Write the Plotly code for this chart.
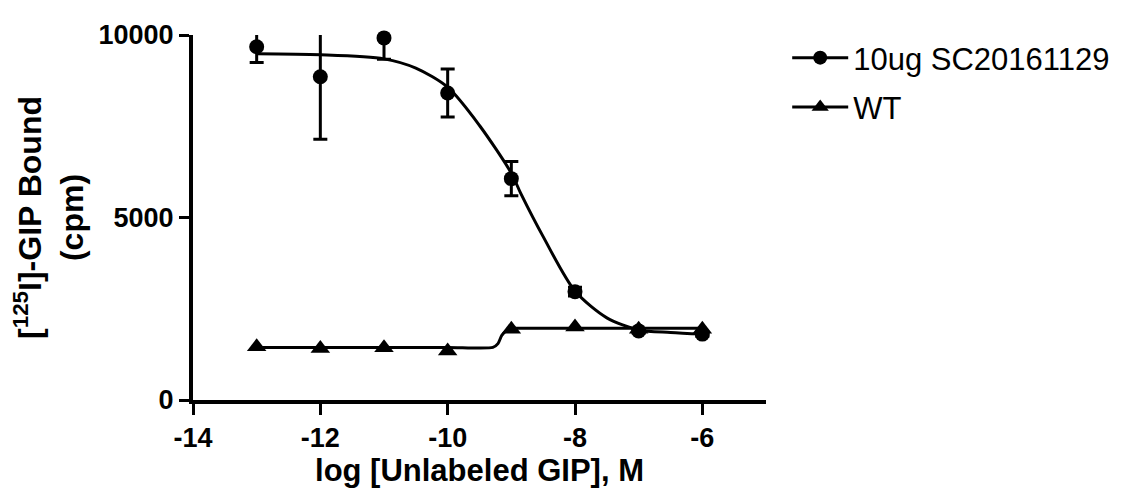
import plotly.graph_objects as go

# ---- data ----
log_conc = [-13, -12, -11, -10, -9, -8, -7, -6]
sc_mean = [9678, 8856, 9921, 8411, 6065, 2966, 1893, 1806]
sc_sem = [430, 1709, 583, 660, 470, 120, 60, 60]
wt_mean = [1458, 1414, 1432, 1343, 1937, 1997, 1937, 1937]

# fitted curves
sc_fit_x = [-13, -12, -11, -10.5, -10, -9.5, -9, -8.85, -8.5, -8, -7.5, -7, -6.5, -6]
sc_fit_y = [9484, 9458, 9346, 9092, 8569, 7521, 6213, 5654, 4476, 2984, 2251, 1919, 1851, 1806]
wt_fit_x = [-13, -10, -9.29, -9.21, -9.15, -9.08, -9.0, -8.9, -6]
wt_fit_y = [1440, 1440, 1440, 1545, 1770, 1893, 1963, 1963, 1963]

series_names = ["10ug SC20161129", "WT"]
x_ticks = [-14, -12, -10, -8, -6]
y_ticks = [0, 5000, 10000]

FONT = "Arial, Liberation Sans, Helvetica, sans-serif"
BLACK = "#000000"

fig = go.Figure()

# fitted curves
fig.add_trace(go.Scatter(x=sc_fit_x, y=sc_fit_y, mode="lines", line=dict(color=BLACK, width=3, shape="spline", smoothing=0.8),
                         showlegend=False, hoverinfo="skip"))
fig.add_trace(go.Scatter(x=wt_fit_x, y=wt_fit_y, mode="lines", line=dict(color=BLACK, width=3, shape="spline", smoothing=0.6),
                         showlegend=False, hoverinfo="skip"))

# error bars (clipped to the plot area)
fig.add_trace(go.Scatter(x=log_conc, y=sc_mean, mode="markers", marker=dict(size=1, opacity=0),
                         error_y=dict(type="data", array=sc_sem, visible=True, color=BLACK, thickness=3, width=7),
                         showlegend=False, hoverinfo="skip", cliponaxis=True))

# data markers
fig.add_trace(go.Scatter(x=log_conc, y=sc_mean, mode="markers", marker=dict(symbol="circle", size=15, color=BLACK),
                         showlegend=False, cliponaxis=False, name=series_names[0]))
fig.add_trace(go.Scatter(x=log_conc, y=wt_mean, mode="markers", marker=dict(symbol="triangle-up", size=17, color=BLACK),
                         showlegend=False, cliponaxis=False, name=series_names[1]))

# legend entries
fig.add_trace(go.Scatter(x=[None], y=[None], mode="lines+markers", name=series_names[0],
                         line=dict(color=BLACK, width=3), marker=dict(symbol="circle", size=14, color=BLACK),
                         legendgroup="a"))
fig.add_trace(go.Scatter(x=[None], y=[None], mode="lines+markers", name=series_names[1],
                         line=dict(color=BLACK, width=3), marker=dict(symbol="triangle-up", size=15, color=BLACK),
                         legendgroup="b"))

# the page body adds an 8px margin, so the figure is 16px smaller than the window
fig.update_layout(
    width=1119, height=484,
    margin=dict(l=185, r=357, t=14, b=88),
    paper_bgcolor="white", plot_bgcolor="white",
    font=dict(family=FONT, color=BLACK),
    legend=dict(x=1.037, xanchor="left", y=1.011, yanchor="top", font=dict(size=31, family=FONT),
                traceorder="grouped", tracegroupgap=6, bgcolor="rgba(0,0,0,0)", itemwidth=56),
)

fig.update_xaxes(
    range=[-14, -5], tickvals=x_ticks, ticktext=[str(v) for v in x_ticks],
    showgrid=False, zeroline=False, showline=True, linecolor=BLACK, linewidth=4,
    ticks="outside", ticklen=11, tickwidth=3, tickcolor=BLACK,
    tickfont=dict(size=27, family=FONT, weight="bold"),
    title=dict(text="log [Unlabeled GIP], M", font=dict(size=31, family=FONT, weight="bold"), standoff=5),
)
fig.update_yaxes(
    range=[0, 10000], tickvals=y_ticks, ticktext=[str(v) for v in y_ticks],
    showgrid=False, zeroline=False, showline=True, linecolor=BLACK, linewidth=4,
    ticks="outside", ticklen=10, tickwidth=3, tickcolor=BLACK,
    tickfont=dict(size=27, family=FONT, weight="bold"),
    title=dict(text="[<sup>125</sup>I]-GIP Bound<br>(cpm)", font=dict(size=32, family=FONT, weight="bold"), standoff=8),
)

fig.write_html("out.html")
